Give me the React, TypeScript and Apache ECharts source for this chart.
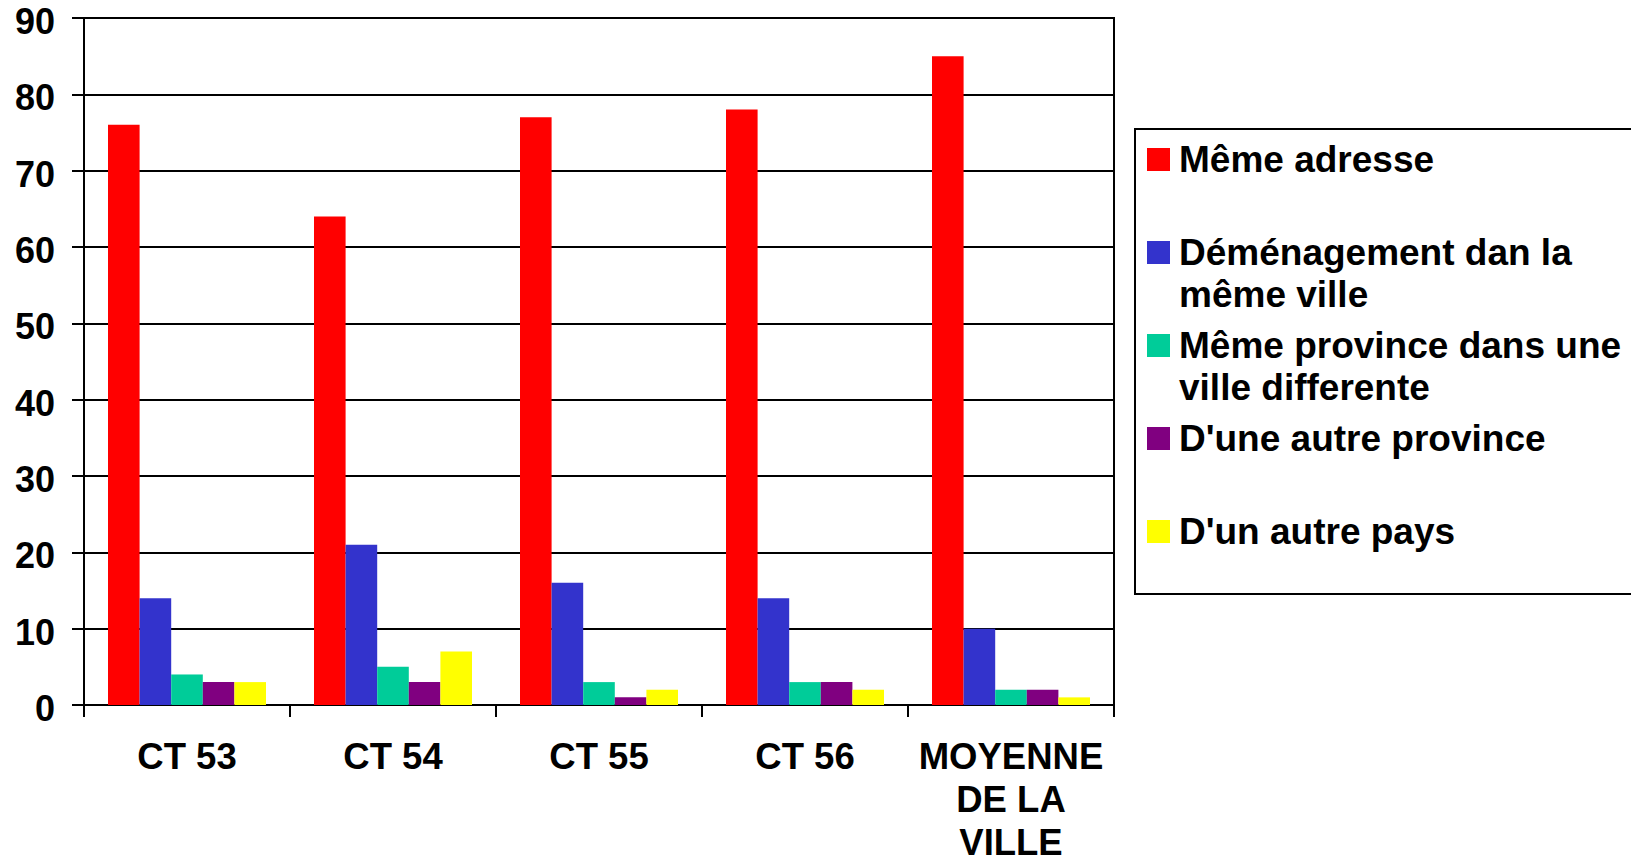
import React, { useEffect, useRef } from "react";
import * as echarts from "echarts";

const categories = ["CT 53", "CT 54", "CT 55", "CT 56", "MOYENNE\nDE LA\nVILLE"];
const seriesNames = [
  "Même adresse",
  "Déménagement dan la même ville",
  "Même province dans une ville differente",
  "D'une autre province",
  "D'un autre pays",
];
const legendLabels = [
  "\nMême adresse\n",
  "\nDéménagement dan la\nmême ville",
  "\nMême province dans une\nville differente",
  "\nD'une autre province\n",
  "\nD'un autre pays\n",
];
const memeAdresse = [76, 64, 77, 78, 85];
const demenagement = [14, 21, 16, 14, 10];
const memeProvince = [4, 5, 3, 3, 2];
const autreProvince = [3, 3, 1, 3, 2];
const autrePays = [3, 7, 2, 2, 1];
const seriesValues = [memeAdresse, demenagement, memeProvince, autreProvince, autrePays];
const colors = ["#FF0000", "#3333CC", "#00CC99", "#800080", "#FFFF00"];

const FONT = "Arial, 'Liberation Sans', sans-serif";

export default function App() {
  const ref = useRef<HTMLDivElement>(null);
  useEffect(() => {
    if (!ref.current) return;
    const chart = echarts.init(ref.current, undefined, { renderer: "svg" });
    chart.setOption({
      animation: false,
      backgroundColor: "#fff",
      grid: {
        left: 84,
        top: 18,
        right: 517,
        bottom: 160,
        outerBoundsMode: "none",
        containLabel: false,
        show: true,
        borderColor: "#000",
        borderWidth: 2,
        backgroundColor: "transparent",
      },
      xAxis: {
        type: "category",
        data: categories,
        axisLine: { show: true, lineStyle: { color: "#000", width: 2 } },
        axisTick: { show: true, length: 12, lineStyle: { color: "#000", width: 2 } },
        axisLabel: {
          interval: 0,
          margin: 30,
          color: "#000",
          fontFamily: FONT,
          fontWeight: "bold",
          fontSize: 36.5,
          lineHeight: 43,
        },
      },
      yAxis: {
        type: "value",
        min: 0,
        max: 90,
        interval: 10,
        axisLine: { show: true, lineStyle: { color: "#000", width: 2 } },
        axisTick: { show: true, length: 12, lineStyle: { color: "#000", width: 2 } },
        splitLine: { show: true, lineStyle: { color: "#000", width: 2 } },
        axisLabel: {
          margin: 29,
          color: "#000",
          fontFamily: FONT,
          fontWeight: "bold",
          fontSize: 36,
          formatter: (v: number) => `{v|${v}}`,
          rich: {
            v: {
              color: "#000",
              fontFamily: FONT,
              fontWeight: "bold",
              fontSize: 36,
              lineHeight: 30,
              padding: [7, 0, 0, 0],
            },
          },
        },
      },
      legend: {
        orient: "vertical",
        left: 1147,
        top: 96.5,
        padding: 0,
        itemGap: -33,
        itemWidth: 23,
        itemHeight: 23,
        icon: "rect",
        data: seriesNames,
        formatter: (name: string) => legendLabels[seriesNames.indexOf(name)],
        textStyle: {
          color: "#000",
          fontFamily: FONT,
          fontWeight: "bold",
          fontSize: 37,
          lineHeight: 42,
          padding: [0, 0, 0, 4],
        },
      },
      graphic: [
        {
          type: "rect",
          shape: { x: 1135, y: 129, width: 520, height: 465 },
          style: { fill: "none", stroke: "#000", lineWidth: 2 },
          silent: true,
        },
      ],
      series: seriesNames.map((name, i) => ({
        name,
        type: "bar",
        data: seriesValues[i],
        barWidth: 31.6,
        barGap: "0%",
        itemStyle: { color: colors[i] },
      })),
    });
    return () => chart.dispose();
  }, []);
  return (
    <div
      ref={ref}
      style={{ position: "absolute", left: 0, top: 0, width: 1631, height: 865 }}
    />
  );
}
